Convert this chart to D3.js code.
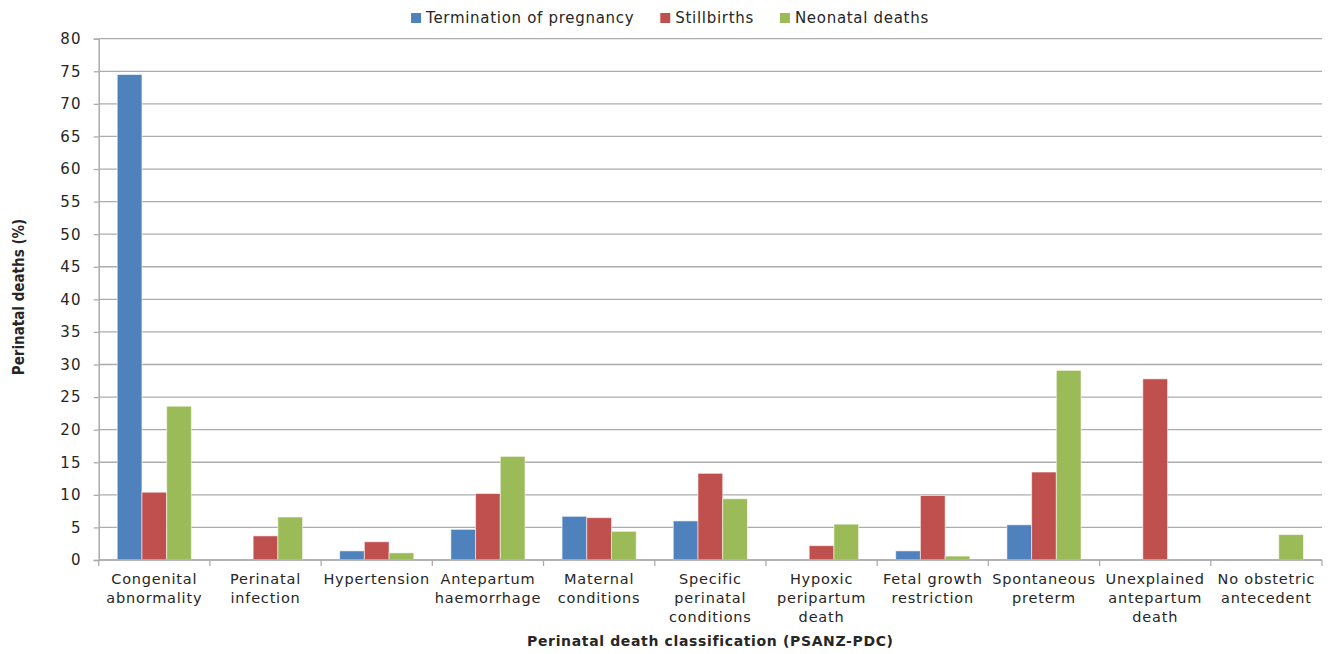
<!DOCTYPE html>
<html>
<head>
<meta charset="utf-8">
<script src="https://cdn.jsdelivr.net/npm/d3@7"></script>
<style>
  body { margin: 0; background: #fff; }
  svg text { font-family: "DejaVu Sans", sans-serif; fill: #262626; }
</style>
</head>
<body>
<div id="chart"></div>
<script>
// categories, with their wrapped label lines
var categories = ["Congenital abnormality", "Perinatal infection", "Hypertension", "Antepartum haemorrhage",
  "Maternal conditions", "Specific perinatal conditions", "Hypoxic peripartum death", "Fetal growth restriction",
  "Spontaneous preterm", "Unexplained antepartum death", "No obstetric antecedent"];
var categoryLines = [["Congenital", "abnormality"], ["Perinatal", "infection"], ["Hypertension"], ["Antepartum", "haemorrhage"],
  ["Maternal", "conditions"], ["Specific", "perinatal", "conditions"], ["Hypoxic", "peripartum", "death"], ["Fetal growth", "restriction"],
  ["Spontaneous", "preterm"], ["Unexplained", "antepartum", "death"], ["No obstetric", "antecedent"]];

var seriesNames = ["Termination of pregnancy", "Stillbirths", "Neonatal deaths"];
var seriesColors = ["#4F81BD", "#C0504D", "#9BBB59"];
var termination = [74.5, 0, 1.4, 4.7, 6.7, 6.0, 0, 1.4, 5.4, 0, 0];
var stillbirths = [10.4, 3.7, 2.8, 10.2, 6.5, 13.3, 2.2, 9.9, 13.5, 27.8, 0];
var neonatal = [23.6, 6.6, 1.1, 15.9, 4.4, 9.4, 5.5, 0.6, 29.1, 0, 3.9];
var yTicks = d3.range(0, 81, 5);

var W = 1333, H = 654;
var margin = {left: 98.7, right: 11, top: 38.7, bottom: 94};

var svg = d3.select("#chart").append("svg").attr("width", W).attr("height", H);

var x0 = d3.scaleBand().domain(categories)
  .range([margin.left, W - margin.right])
  .paddingInner(1 / 3).paddingOuter(1 / 6);
var x1 = d3.scaleBand().domain(seriesNames).range([0, x0.bandwidth()]);
var y = d3.scaleLinear().domain([0, 80]).range([H - margin.bottom, margin.top]);

// gridlines
svg.append("g").selectAll("line").data(yTicks).enter().append("line")
  .attr("x1", margin.left).attr("x2", W - margin.right)
  .attr("y1", function(d) { return y(d); }).attr("y2", function(d) { return y(d); })
  .attr("stroke", "#acacac").attr("stroke-width", 1.3);

// y axis
var yAxis = svg.append("g").attr("transform", "translate(" + margin.left + ",0)")
  .call(d3.axisLeft(y).tickValues(yTicks).tickSize(5).tickPadding(12));
yAxis.select(".domain").attr("stroke", "#acacac").attr("stroke-width", 1.5);
yAxis.selectAll(".tick line").attr("stroke", "#acacac").attr("stroke-width", 1.3);
yAxis.selectAll(".tick text").style("font-size", "15px").style("letter-spacing", "1.2px").attr("fill", "#262626");

// bars
var rows = categories.map(function(c, i) {
  return {cat: c, vals: [termination[i], stillbirths[i], neonatal[i]]};
});
var groups = svg.append("g").selectAll("g").data(rows).enter().append("g")
  .attr("transform", function(d) { return "translate(" + x0(d.cat) + ",0)"; });
groups.selectAll("rect")
  .data(function(d) { return d.vals.map(function(v, k) { return {s: seriesNames[k], v: v, k: k}; }); })
  .enter().filter(function(d) { return d.v > 0; })
  .append("rect")
  .attr("x", function(d) { return x1(d.s); })
  .attr("width", x1.bandwidth())
  .attr("y", function(d) { return y(d.v); })
  .attr("height", function(d) { return y(0) - y(d.v); })
  .attr("fill", function(d) { return seriesColors[d.k]; })
  .attr("stroke", "rgba(255,255,255,0.55)").attr("stroke-width", 1);

// x axis with ticks at category boundaries
var base = y(0);
var step = x0.step();
var bounds = d3.range(categories.length + 1).map(function(i) { return margin.left + i * step; });
svg.append("line").attr("x1", margin.left).attr("x2", W - margin.right)
  .attr("y1", base).attr("y2", base).attr("stroke", "#acacac").attr("stroke-width", 1.5);
svg.append("g").selectAll("line").data(bounds).enter().append("line")
  .attr("x1", function(d) { return d; }).attr("x2", function(d) { return d; })
  .attr("y1", base).attr("y2", base + 6)
  .attr("stroke", "#acacac").attr("stroke-width", 1.3);

// category labels
var labels = svg.append("g").selectAll("text").data(categories).enter().append("text")
  .attr("text-anchor", "middle")
  .attr("transform", function(d) { return "translate(" + (x0(d) + x0.bandwidth() / 2) + "," + (base + 24) + ")"; })
  .style("font-size", "14.5px").style("letter-spacing", "0.8px");
labels.selectAll("tspan").data(function(d, i) { return categoryLines[i]; }).enter().append("tspan")
  .attr("x", 0).attr("dy", function(d, i) { return i === 0 ? 0 : 19; })
  .text(function(d) { return d; });

// axis titles
svg.append("text").attr("x", (margin.left + W - margin.right) / 2).attr("y", 646)
  .attr("text-anchor", "middle").style("font-size", "14px").style("font-weight", "bold")
  .style("letter-spacing", "0.65px")
  .text("Perinatal death classification (PSANZ-PDC)");
svg.append("text").attr("transform", "translate(24,297) rotate(-90)")
  .attr("text-anchor", "middle")
  .style("font-family", "'Liberation Sans Narrow', 'DejaVu Sans Condensed', sans-serif")
  .style("font-size", "15px").style("font-weight", "bold")
  .text("Perinatal deaths (%)");

// legend
var legend = svg.append("g");
var lx = 0;
seriesNames.forEach(function(name, k) {
  var g = legend.append("g").attr("transform", "translate(" + lx + ",0)");
  g.append("rect").attr("x", 0).attr("y", 13).attr("width", 10).attr("height", 10).attr("fill", seriesColors[k]);
  var t = g.append("text").attr("x", 15).attr("y", 23).style("font-size", "15px")
    .style("letter-spacing", "0.7px").text(name);
  lx += 15 + t.node().getComputedTextLength() + 26;
});
var legendW = lx - 26;
legend.attr("transform", "translate(" + (670 - legendW / 2) + ",0)");
</script>
</body>
</html>
